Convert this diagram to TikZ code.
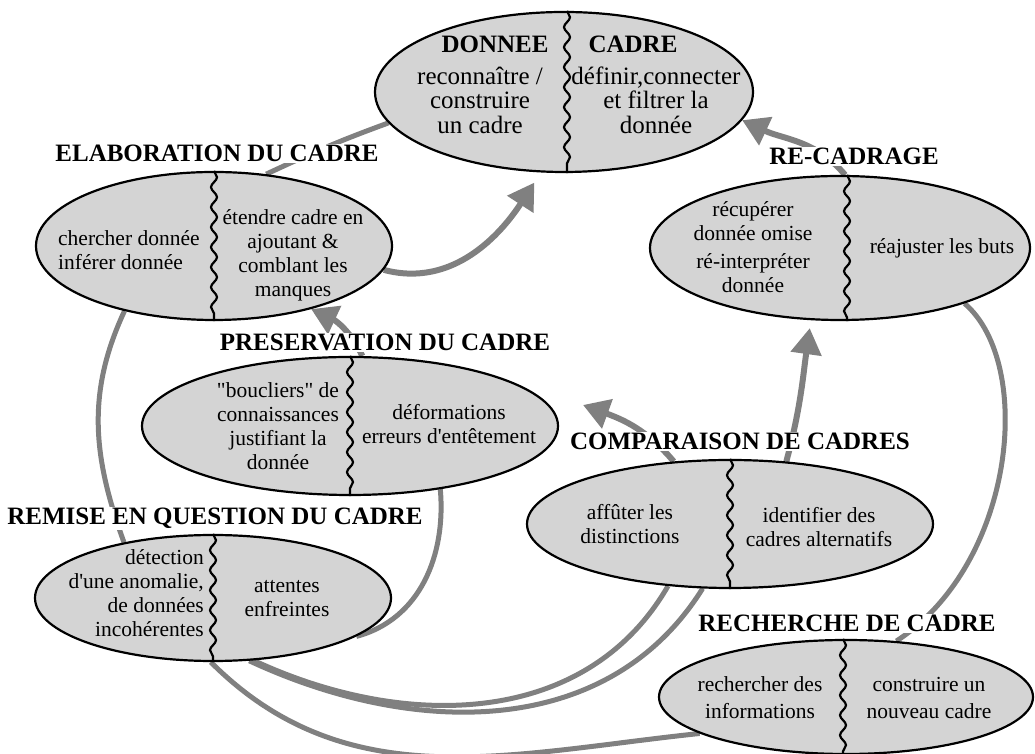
\documentclass[tikz,border=0pt]{standalone}
\usepackage{fontspec}
\setmainfont{Liberation Serif}
\usetikzlibrary{arrows.meta, shapes.geometric, decorations.pathmorphing, backgrounds}
\definecolor{linkgray}{RGB}{128,128,128}
\definecolor{bulle}{RGB}{212,212,212}
\tikzset{
    cadre/.style={ellipse, draw, line width=2.2pt, fill=bulle, inner sep=0pt}, % ellipse d'une fonction
    wavy/.style={decorate, decoration={snake, segment length=20pt, amplitude=3pt}, line width=2.2pt}, % separation ondulee
    titre/.style={font=\bfseries\fontsize{25}{28}\selectfont, fill=white, inner sep=1pt, anchor=base}, % titre au-dessus
    txt/.style={align=center, font=\fontsize{21.5}{24}\selectfont, inner sep=0pt}, % texte dans l'ellipse
    grand txt/.style={txt, font=\fontsize{25}{24.5}\selectfont}, % texte de l'ellipse du haut
    lien/.style={draw=linkgray, line width=5pt}, % lien sans fleche
    fleche/.style={lien, line width=6pt, -{Triangle[width=30pt, length=26pt]}} % lien avec fleche
}

\begin{document}
\begin{tikzpicture}[x=1pt, y=1pt]
    \useasboundingbox (0,0) rectangle (1035,754);

    \node[cadre, minimum width=378pt, minimum height=160pt] (donnee) at (564,662) {};
    \node[cadre, minimum width=356pt, minimum height=148pt] (elab) at (214,508) {};
    \node[cadre, minimum width=380pt, minimum height=144pt] (recad) at (840,506) {};
    \node[cadre, minimum width=416pt, minimum height=138pt] (preserv) at (350,328) {};
    \node[cadre, minimum width=406pt, minimum height=128pt] (compar) at (730,230) {};
    \node[cadre, minimum width=356pt, minimum height=126pt] (remise) at (213,156) {};
    \node[cadre, minimum width=374pt, minimum height=114pt] (recher) at (846,57) {};

    \foreach \e/\dx in {donnee/3, elab/0, recad/7, preserv/0, compar/0, remise/0, recher/-3}
        \draw[wavy] ([xshift=\dx pt]\e.north) -- ([xshift=\dx pt]\e.south);

    % textes
    \node[titre, fill=none] (titreDonnee) at (495,701) {DONNEE};
    \node[titre, fill=none] (titreCadre) at (633,701) {CADRE};
    \node[grand txt] (donneeG) at (480,654) {reconnaître /\\construire\\un cadre};
    \node[grand txt] (donneeD) at (656,654) {définir,connecter\\et filtrer la\\donnée};

    \node[titre] (titreElab) at (217,592) {ELABORATION DU CADRE};
    \node[txt, align=left, anchor=west] (elabG) at (58,504) {chercher donnée\\inférer donnée};
    \node[txt] (elabD) at (293,499) {étendre cadre en\\ajoutant \&\\comblant les\\manques};

    \node[titre] (titreRecad) at (854,589) {RE-CADRAGE};
    \node[txt] (recadG) at (753,507) {récupérer\\donnée omise\\[4pt]ré-interpréter\\donnée};
    \node[txt] (recadD) at (942,506) {réajuster les buts};

    \node[titre] (titrePreserv) at (385,403) {PRESERVATION DU CADRE};
    \node[txt] (preservG) at (278,328) {\textquotedbl boucliers\textquotedbl{} de\\connaissances\\justifiant la\\donnée};
    \node[txt] (preservD) at (449,330) {déformations\\erreurs d\textquotesingle entêtement};

    \node[titre] (titreCompar) at (740,304) {COMPARAISON DE CADRES};
    \node[txt] (comparG) at (630,230) {affûter les\\distinctions};
    \node[txt] (comparD) at (819,227) {identifier des\\cadres alternatifs};

    \node[titre] (titreRemise) at (215,229) {REMISE EN QUESTION DU CADRE};
    \node[txt, align=right, anchor=east] (remiseG) at (204,161) {détection\\d\textquotesingle une anomalie,\\de données\\incohérentes};
    \node[txt] (remiseD) at (287,155) {attentes\\enfreintes};

    \node[titre] (titreRecher) at (847,122) {RECHERCHE DE CADRE};
    \node[txt] (recherG) at (760,56) {rechercher des\\[3pt]informations};
    \node[txt] (recherD) at (929,56) {construire un\\[3pt]nouveau cadre};

    \coordinate (pointeP) at (583,349);

    % liens
    \begin{scope}[on background layer]
        \draw[lien] (elab.54) to[out=25, in=200] (donnee.190);
        \draw[fleche, shorten >=12pt] (elab.-8) to[out=-15, in=237] (donnee.254);
        \draw[fleche] (recad.86) to[out=130, in=-25] (donnee.-9);
        \draw[fleche] (preserv.80) to[out=115, in=-25] (elab.-33);
        \draw[lien] (elab.216) to[out=245, in=110] (remise.148);
        \draw[lien] (preserv.-35) to[out=-85, in=15] (remise.-15);
        \draw[lien] (remise.-57) to[out=-25, in=240] (compar.225);
        \draw[lien] (remise.-60) to[out=-25, in=238] (compar.247);
        \draw[lien] (remise.268) to[out=-45, in=186] (recher.194);
        \draw[lien] (recad.-24) .. controls (1035,390) and (1015,190) .. (recher.48);
        \draw[fleche, shorten >=8pt] (compar.48) to[out=75, in=262] (recad.248);
        \draw[fleche] (compar.132) to[out=130, in=-20] (pointeP);
    \end{scope}
\end{tikzpicture}
\end{document}
